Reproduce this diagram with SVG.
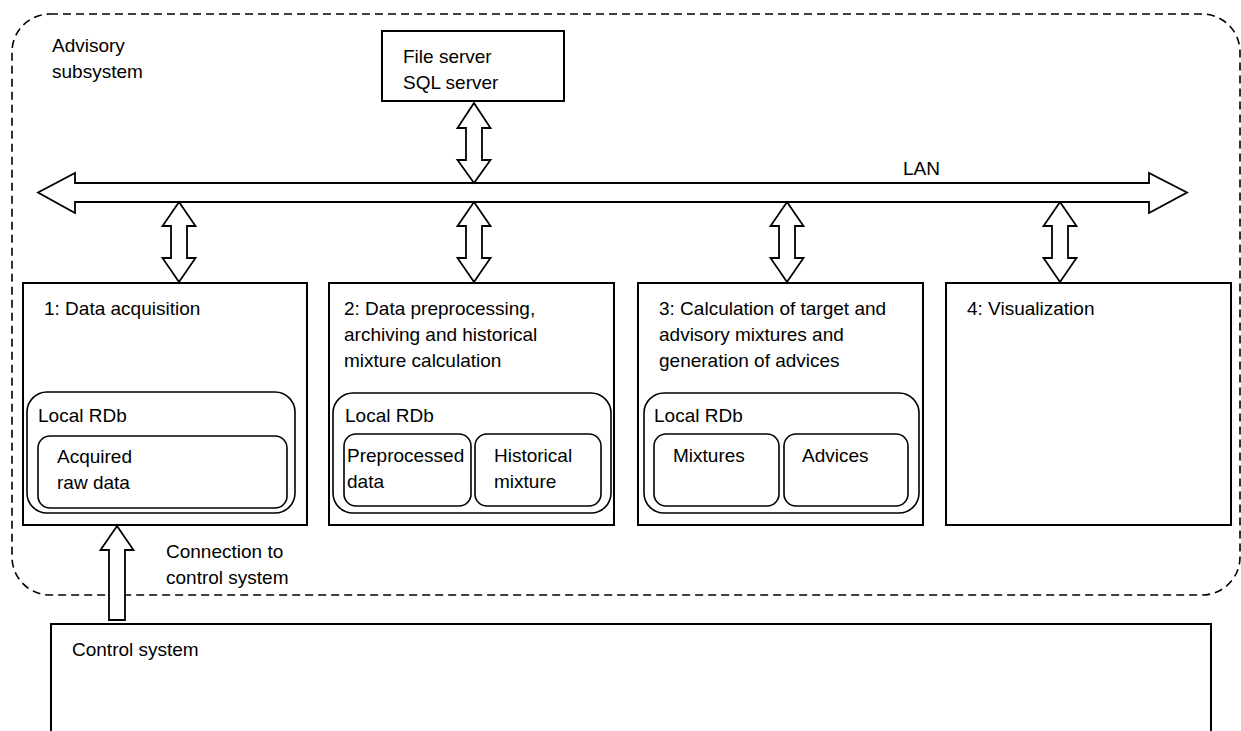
<svg xmlns="http://www.w3.org/2000/svg" width="1241" height="731" viewBox="0 0 1241 731">
  <style>
    text { font-family: "Liberation Sans", Arial, sans-serif; font-size: 19px; fill: #000; }
    .box { fill: #fff; stroke: #000; stroke-width: 2; }
    .db { fill: none; stroke: #000; stroke-width: 1.6; }
    .arrow { fill: #fff; stroke: #000; stroke-width: 1.8; stroke-linejoin: miter; }
    .boundary { fill: none; stroke: #000; stroke-width: 1.6; stroke-dasharray: 8 5; }
  </style>

  <!-- Advisory subsystem boundary -->
  <g id="advisory-subsystem">
    <rect class="boundary" x="12" y="14" width="1228" height="581" rx="38" ry="38"/>
    <text x="52" y="52">Advisory</text>
    <text x="52" y="78">subsystem</text>
  </g>

  <!-- Server -->
  <g id="server">
    <rect class="box" x="382" y="31" width="182" height="70"/>
    <text x="403" y="63">File server</text>
    <text x="403" y="89">SQL server</text>
  </g>

  <!-- Module 1 -->
  <g id="module-1">
    <rect class="box" x="23" y="283" width="284" height="242"/>
    <text x="44" y="315">1: Data acquisition</text>
    <rect class="db" x="27" y="392" width="268" height="121" rx="20" ry="20"/>
    <text x="38" y="422">Local RDb</text>
    <rect class="db" x="38" y="436" width="249" height="72" rx="12" ry="12"/>
    <text x="57" y="463">Acquired</text>
    <text x="57" y="489">raw data</text>
  </g>

  <!-- Module 2 -->
  <g id="module-2">
    <rect class="box" x="329" y="283" width="285" height="242"/>
    <text x="344" y="315">2: Data preprocessing,</text>
    <text x="344" y="341">archiving and historical</text>
    <text x="344" y="367">mixture calculation</text>
    <rect class="db" x="333" y="393" width="278" height="120" rx="20" ry="20"/>
    <text x="345" y="422">Local RDb</text>
    <rect class="db" x="344" y="434" width="127" height="72" rx="12" ry="12"/>
    <text x="347" y="462">Preprocessed</text>
    <text x="347" y="488">data</text>
    <rect class="db" x="475" y="434" width="126" height="72" rx="12" ry="12"/>
    <text x="494" y="462">Historical</text>
    <text x="494" y="488">mixture</text>
  </g>

  <!-- Module 3 -->
  <g id="module-3">
    <rect class="box" x="638" y="283" width="285" height="242"/>
    <text x="659" y="315">3: Calculation of target and</text>
    <text x="659" y="341">advisory mixtures and</text>
    <text x="659" y="367">generation of advices</text>
    <rect class="db" x="644" y="393" width="275" height="120" rx="20" ry="20"/>
    <text x="654" y="422">Local RDb</text>
    <rect class="db" x="654" y="434" width="125" height="72" rx="12" ry="12"/>
    <text x="673" y="462">Mixtures</text>
    <rect class="db" x="784" y="434" width="124" height="72" rx="12" ry="12"/>
    <text x="802" y="462">Advices</text>
  </g>

  <!-- Module 4 -->
  <g id="module-4">
    <rect class="box" x="946" y="283" width="285" height="242"/>
    <text x="967" y="315">4: Visualization</text>
  </g>

  <!-- Control system -->
  <g id="control-system">
    <rect class="box" x="51" y="624" width="1160" height="120"/>
    <text x="72" y="656">Control system</text>
  </g>

  <!-- Connectors -->
  <g id="connectors">
    <!-- LAN bus -->
    <polygon class="arrow" points="38,192.5 75,173 75,183 1149,183 1149,173 1187,192.5 1149,213 1149,202 75,202 75,213"/>
    <text x="903" y="175">LAN</text>
    <!-- server to LAN -->
    <polygon class="arrow" points="474,103 490.5,128 482,128 482,160 490.5,160 474,183 457.5,160 466,160 466,128 457.5,128"/>
    <!-- LAN to modules -->
    <polygon class="arrow" points="179,202 195.5,226 187,226 187,258 195.5,258 179,282 162.5,258 171,258 171,226 162.5,226"/>
    <polygon class="arrow" points="474,202 490.5,226 482,226 482,258 490.5,258 474,282 457.5,258 466,258 466,226 457.5,226"/>
    <polygon class="arrow" points="787,202 803.5,226 795,226 795,258 803.5,258 787,282 770.5,258 779,258 779,226 770.5,226"/>
    <polygon class="arrow" points="1060,202 1076.5,226 1068,226 1068,258 1076.5,258 1060,282 1043.5,258 1052,258 1052,226 1043.5,226"/>
    <!-- control system to data acquisition -->
    <polygon class="arrow" points="117,526 133.5,550 125,550 125,620 109,620 109,550 100.5,550"/>
    <text x="166" y="558">Connection to</text>
    <text x="166" y="584">control system</text>
  </g>
</svg>
